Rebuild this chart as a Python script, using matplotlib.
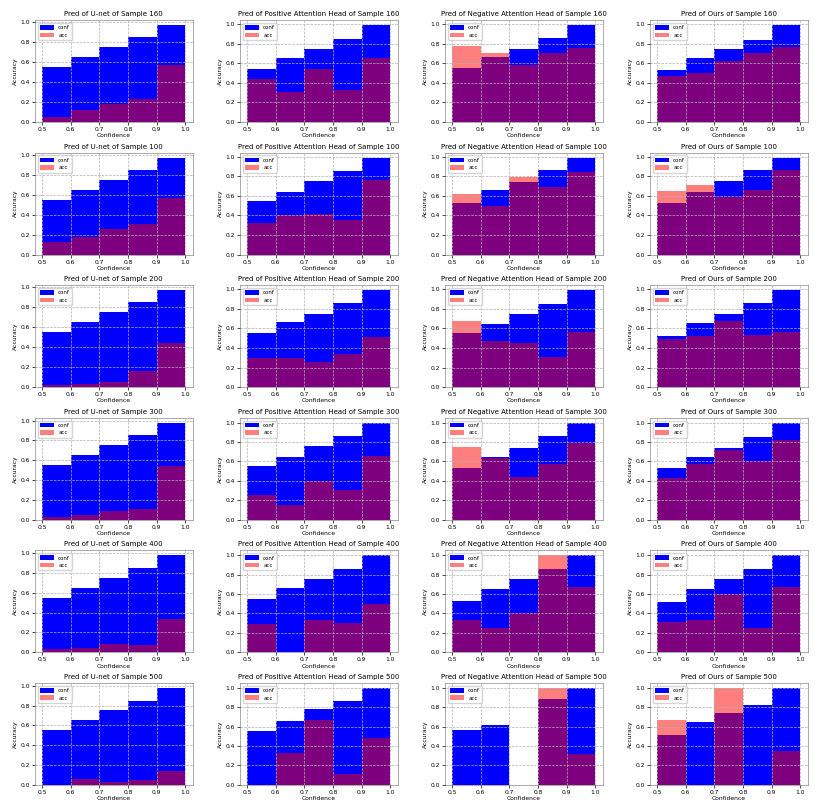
import numpy as np
import matplotlib.pyplot as plt

bins = [0.5, 0.6, 0.7, 0.8, 0.9]
models = ["U-net", "Positive Attention Head", "Negative Attention Head", "Ours"]
samples = [160, 100, 200, 300, 400, 500]

# confidence / accuracy per bin, one list per (sample, model)
conf_160 = [[0.55, 0.65, 0.75, 0.85, 0.97], [0.54, 0.65, 0.75, 0.85, 0.99],
            [0.55, 0.66, 0.75, 0.86, 0.99], [0.53, 0.65, 0.75, 0.84, 0.99]]
acc_160 = [[0.05, 0.12, 0.18, 0.23, 0.57], [0.44, 0.31, 0.54, 0.33, 0.65],
           [0.78, 0.70, 0.58, 0.70, 0.76], [0.47, 0.50, 0.62, 0.70, 0.77]]

conf_100 = [[0.55, 0.65, 0.75, 0.85, 0.97], [0.55, 0.64, 0.75, 0.85, 0.99],
            [0.53, 0.66, 0.74, 0.86, 0.99], [0.53, 0.64, 0.75, 0.86, 0.99]]
acc_100 = [[0.13, 0.18, 0.26, 0.31, 0.57], [0.32, 0.40, 0.41, 0.35, 0.76],
           [0.62, 0.50, 0.79, 0.69, 0.84], [0.65, 0.71, 0.59, 0.66, 0.86]]

conf_200 = [[0.55, 0.65, 0.75, 0.85, 0.97], [0.55, 0.66, 0.75, 0.86, 0.99],
            [0.55, 0.64, 0.75, 0.85, 0.99], [0.52, 0.65, 0.75, 0.86, 0.99]]
acc_200 = [[0.02, 0.03, 0.05, 0.16, 0.44], [0.30, 0.30, 0.26, 0.34, 0.51],
           [0.67, 0.47, 0.45, 0.31, 0.56], [0.49, 0.52, 0.67, 0.53, 0.56]]

conf_300 = [[0.55, 0.65, 0.75, 0.86, 0.98], [0.55, 0.65, 0.76, 0.86, 1.00],
            [0.53, 0.65, 0.74, 0.86, 1.00], [0.53, 0.65, 0.74, 0.85, 1.00]]
acc_300 = [[0.03, 0.05, 0.09, 0.11, 0.54], [0.26, 0.15, 0.40, 0.31, 0.66],
           [0.75, 0.64, 0.44, 0.57, 0.79], [0.43, 0.57, 0.72, 0.61, 0.82]]

conf_400 = [[0.55, 0.65, 0.75, 0.85, 0.98], [0.55, 0.66, 0.75, 0.86, 1.00],
            [0.53, 0.65, 0.75, 0.86, 1.00], [0.52, 0.65, 0.75, 0.86, 1.00]]
acc_400 = [[0.03, 0.04, 0.08, 0.07, 0.34], [0.29, 0.00, 0.33, 0.30, 0.50],
           [0.33, 0.25, 0.40, 1.00, 0.67], [0.31, 0.33, 0.60, 0.25, 0.67]]

conf_500 = [[0.55, 0.65, 0.76, 0.85, 0.98], [0.55, 0.66, 0.78, 0.86, 1.00],
            [0.57, 0.62, 0.00, 0.88, 1.00], [0.51, 0.65, 0.74, 0.82, 1.00]]
acc_500 = [[0.00, 0.06, 0.03, 0.05, 0.14], [0.00, 0.33, 0.67, 0.11, 0.48],
           [0.00, 0.00, 0.00, 1.00, 0.32], [0.67, 0.00, 1.00, 0.00, 0.35]]

confs = [conf_160, conf_100, conf_200, conf_300, conf_400, conf_500]
accs = [acc_160, acc_100, acc_200, acc_300, acc_400, acc_500]

fig, axes = plt.subplots(6, 4, figsize=(8.3, 8.05), dpi=100)
plt.subplots_adjust(left=0.042, right=0.973, top=0.975, bottom=0.025,
                    wspace=0.3, hspace=0.3)

for i, s in enumerate(samples):
    for j, m in enumerate(models):
        ax = axes[i, j]
        ax.bar(bins, confs[i][j], width=0.1, align="edge", color="b", label="conf")
        ax.bar(bins, accs[i][j], width=0.1, align="edge", color="r", alpha=0.5, label="acc")
        ax.set_title(f"Pred of {m} of Sample {s}", fontsize=5, pad=3)
        ax.set_xlabel("Confidence", fontsize=4.3, labelpad=1)
        ax.set_ylabel("Accuracy", fontsize=4.3, labelpad=2)
        ax.tick_params(labelsize=4.3, length=2, width=0.5, pad=1.5)
        ax.grid(True, linestyle="--", linewidth=0.5, color="#b0b0b0")
        ax.set_axisbelow(False)
        for sp in ax.spines.values():
            sp.set_linewidth(0.5)
            sp.set_color("#888888")
        ax.legend(loc="upper left", fontsize=4, handlelength=2.5, handleheight=0.9,
                  borderpad=0.4, labelspacing=0.4, framealpha=0.8)

plt.savefig("out.png", dpi=100)
